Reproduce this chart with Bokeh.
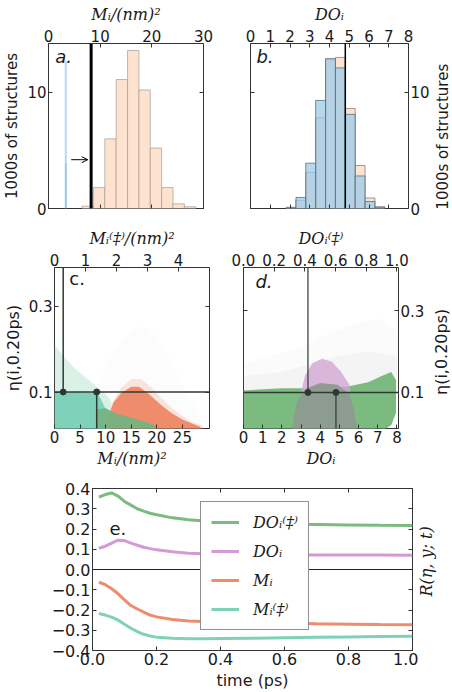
import math
from bokeh.plotting import figure
from bokeh.layouts import column, row
from bokeh.models import (Range1d, LinearAxis, FixedTicker, CustomJSTickFormatter,
                          Label, Arrow, OpenHead, Legend, LegendItem, Span)
from bokeh.embed import file_html
from bokeh.resources import INLINE

# ---------------- data ----------------
# panel a: histogram of M_i (orange) and M_i(‡) (blue), thousands of structures
a_M_edges = [6.5, 8.7, 10.9, 13.1, 15.3, 17.5, 19.7, 21.9, 24.1, 26.3, 28.5]
a_M_counts = [0.2, 1.8, 6.0, 11.1, 13.6, 10.2, 5.2, 1.8, 0.4, 0.15]
a_Mts_edges = [3.15, 3.55]
a_Mts_counts = [12.7]
a_Mts_core_edges = [3.2, 3.5]
a_Mts_core_counts = [3.9]
a_threshold = 8.25
a_arrow_x = [4.4, 7.6]
a_arrow_y = 4.2

# panel b: histogram of DO_i (orange) and DO_i(‡) (blue)
b_edges = [1.8, 2.3, 2.8, 3.3, 3.8, 4.3, 4.8, 5.3, 5.8, 6.3, 6.8]
b_DO_counts = [0.05, 0.7, 3.1, 7.8, 12.8, 13.0, 8.6, 3.7, 0.9, 0.15]
b_DOts_counts = [0.1, 0.95, 3.9, 9.3, 12.9, 12.1, 8.1, 2.8, 0.6, 0.1]
b_threshold = 4.8

# panel c: eta vs M_i clouds (outlines)
c_haze_x = [8, 10, 12, 14, 16, 18, 20, 22, 24, 26, 28, 29, 29, 8]
c_haze_y = [0.10, 0.16, 0.20, 0.23, 0.25, 0.25, 0.23, 0.19, 0.14, 0.10, 0.05, 0.02, 0.0, 0.0]
c_tealhaze_x = [0, 0, 2, 4, 6, 8, 10, 11, 11, 0]
c_tealhaze_y = [0.10, 0.21, 0.18, 0.155, 0.135, 0.115, 0.095, 0.08, 0.0, 0.0]
c_teal_x = [0, 0, 4, 8.3, 9.0, 10.0, 11.0, 11.2]
c_teal_y = [0.0, 0.10, 0.10, 0.098, 0.085, 0.06, 0.03, 0.0]
c_orhalo_x = [9.5, 11, 13, 15, 17, 19, 21, 23, 25, 27, 29, 29.5]
c_orhalo_y = [0.0, 0.07, 0.11, 0.13, 0.13, 0.11, 0.085, 0.062, 0.044, 0.03, 0.02, 0.0]
c_orange_x = [9.6, 10.5, 11.5, 13, 15, 16.5, 18.5, 21, 23, 25, 27, 28.5, 29]
c_orange_y = [0.0, 0.04, 0.075, 0.097, 0.112, 0.112, 0.095, 0.068, 0.05, 0.036, 0.026, 0.019, 0.0]
c_green_x = [8.3, 8.3, 10, 12, 15, 18, 20, 20.5]
c_green_y = [0.0, 0.06, 0.062, 0.05, 0.04, 0.03, 0.02, 0.0]
c_eta_cut = 0.1
c_Mts_cut = 0.28    # in M_i(‡) units (top axis)
c_M_cut = 8.25      # in M_i units (bottom axis)

# panel d: eta vs DO_i clouds
d_haze_x = [0, 0, 1.5, 3, 4.5, 6, 7, 8.08, 8.08]
d_haze_y = [0.10, 0.17, 0.19, 0.21, 0.245, 0.27, 0.28, 0.25, 0.10]
d_haze2_x = [0, 0, 2, 3.5, 5, 6.5, 8, 8]
d_haze2_y = [0.10, 0.14, 0.15, 0.17, 0.19, 0.20, 0.19, 0.10]
d_green_x = [0, 0, 2, 4, 5.5, 6.5, 7.2, 7.7, 7.95, 7.95, 7.7, 7.2, 7.0]
d_green_y = [0.0, 0.105, 0.11, 0.11, 0.115, 0.125, 0.14, 0.15, 0.13, 0.05, 0.02, 0.005, 0.0]
d_pink_x = [3.0, 3.2, 3.6, 4.1, 4.6, 5.1, 5.5, 5.6]
d_pink_y = [0.10, 0.14, 0.172, 0.182, 0.175, 0.15, 0.12, 0.10]
d_gray_x = [2.5, 2.6, 2.8, 3.3, 4.0, 4.9, 5.5, 5.75, 5.9, 5.9]
d_gray_y = [0.0, 0.03, 0.08, 0.11, 0.123, 0.119, 0.098, 0.058, 0.018, 0.0]
d_eta_cut = 0.1
d_DOts_cut = 0.42   # in DO_i(‡) units (top axis)
d_DO_cut = 4.82     # in DO_i units (bottom axis)

# panel e: correlation R(eta, y; t)
e_time = [0.02, 0.04, 0.06, 0.08, 0.10, 0.12, 0.14, 0.16, 0.18, 0.20,
          0.25, 0.30, 0.35, 0.40, 0.50, 0.60, 0.70, 0.80, 0.90, 1.00]
e_DOts = [0.357, 0.370, 0.378, 0.362, 0.336, 0.318, 0.300, 0.288, 0.278, 0.270,
          0.255, 0.246, 0.240, 0.235, 0.228, 0.224, 0.222, 0.220, 0.218, 0.217]
e_DO = [0.105, 0.115, 0.130, 0.145, 0.143, 0.130, 0.120, 0.110, 0.103, 0.097,
        0.088, 0.080, 0.078, 0.076, 0.074, 0.073, 0.072, 0.071, 0.071, 0.070]
e_M = [-0.063, -0.075, -0.095, -0.120, -0.150, -0.178, -0.195, -0.210, -0.225, -0.234,
       -0.247, -0.254, -0.257, -0.259, -0.262, -0.265, -0.268, -0.270, -0.272, -0.273]
e_Mts = [-0.217, -0.225, -0.235, -0.250, -0.270, -0.290, -0.307, -0.320, -0.328, -0.334,
         -0.340, -0.342, -0.342, -0.341, -0.339, -0.337, -0.335, -0.333, -0.331, -0.330]
e_labels = ["DOᵢ⁽‡⁾", "DOᵢ", "Mᵢ", "Mᵢ⁽‡⁾"]

# ---------------- style ----------------
SANS = "DejaVu Sans"
SERIF = "DejaVu Serif"
INK = "#1a1a1a"
FRAME = "#333333"
C_GREEN = "#7bbb80"
C_PINK = "#d49ad4"
C_ORANGE = "#ef8c6c"
C_TEAL = "#80d1b9"
H_ORANGE = "#fde2cf"
H_BLUE = "#9ccbea"

fmt1 = CustomJSTickFormatter(code="return tick.toFixed(1).replace('-', '\u2212');")
blank = CustomJSTickFormatter(code="return '';")


def make_fig(w, h, bl, br, bt, bb, xr, yr, xloc, yloc, extra=None):
    kw = {}
    if extra:
        kw["extra_x_ranges"] = extra
    p = figure(width=w, height=h, x_range=Range1d(*xr), y_range=Range1d(*yr),
               x_axis_location=xloc, y_axis_location=yloc,
               output_backend="svg", toolbar_location=None,
               min_border_left=bl, min_border_right=br,
               min_border_top=bt, min_border_bottom=bb, **kw)
    p.outline_line_color = FRAME
    p.outline_line_width = 1
    p.xgrid.visible = False
    p.ygrid.visible = False
    p.background_fill_color = "white"
    p.border_fill_color = "white"
    return p


def title_strip(w, h, text, x, y, font=SANS, style="normal", size="15px"):
    # narrow figure holding a right-hand axis title that reads bottom-to-top
    p = figure(width=w, height=h, x_range=Range1d(0, 1), y_range=Range1d(0, 1),
               x_axis_location=None, y_axis_location=None,
               output_backend="svg", toolbar_location=None,
               min_border_left=0, min_border_right=0, min_border_top=0, min_border_bottom=0)
    p.outline_line_color = None
    p.xgrid.visible = False
    p.ygrid.visible = False
    p.background_fill_color = "white"
    p.border_fill_color = "white"
    p.add_layout(Label(x=x, y=y, text=text, angle=math.pi / 2, angle_units="rad",
                       text_align="center", text_baseline="middle",
                       text_font=font, text_font_style=style, text_font_size=size,
                       text_color=INK))
    return p


def style_axis(ax, ticks, labeled=True, size="15px", label=None, lfont=SANS,
               lstyle="normal", lsize="15px", fmt=None):
    ax.ticker = FixedTicker(ticks=ticks)
    ax.major_tick_in = 4
    ax.major_tick_out = 0
    ax.minor_tick_line_color = None
    ax.axis_line_color = None
    ax.major_tick_line_color = FRAME
    ax.major_label_text_font = SANS
    ax.major_label_text_font_size = size
    ax.major_label_text_color = INK
    ax.major_label_standoff = 2
    if not labeled:
        ax.formatter = blank
    elif fmt is not None:
        ax.formatter = fmt
    if label is not None:
        ax.axis_label = label
        ax.axis_label_text_font = lfont
        ax.axis_label_text_font_style = lstyle
        ax.axis_label_text_font_size = lsize
        ax.axis_label_text_color = INK
        ax.axis_label_standoff = 3


def panel_label(p, text, x, y, style="italic"):
    p.add_layout(Label(x=x, y=y, text=text, text_font=SANS, text_font_style=style,
                       text_font_size="18px", text_color=INK))


# ---------------- panel a ----------------
pa = make_fig(225, 222, 45, 22, 43, 14, (0, 30), (0, 14.2), "above", "left")
pa.quad(left=a_M_edges[:-1], right=a_M_edges[1:], bottom=0, top=a_M_counts,
        fill_color=H_ORANGE, fill_alpha=1.0, line_color="#a89c92", line_alpha=0.7, line_width=1)
pa.quad(left=a_Mts_edges[:-1], right=a_Mts_edges[1:], bottom=0, top=a_Mts_counts,
        fill_color=H_BLUE, fill_alpha=0.7, line_color=None)
pa.quad(left=a_Mts_core_edges[:-1], right=a_Mts_core_edges[1:], bottom=0, top=a_Mts_core_counts,
        fill_color="#7dbde6", fill_alpha=0.7, line_color=None)
pa.add_layout(Span(location=a_threshold, dimension="height", line_color="black", line_width=3))
pa.add_layout(Arrow(end=OpenHead(size=6, line_width=1, line_color="black"),
                    x_start=a_arrow_x[0], y_start=a_arrow_y, x_end=a_arrow_x[1], y_end=a_arrow_y,
                    line_width=1, line_color="black"))
style_axis(pa.xaxis[0], [0, 10, 20, 30], label="Mᵢ/(nm)²", lfont=SERIF, lstyle="italic", lsize="16px")
style_axis(pa.yaxis[0], [0, 10], label="1000s of structures")
ax = LinearAxis()
pa.add_layout(ax, "below")
style_axis(ax, [0, 10, 20, 30], labeled=False)
ax = LinearAxis()
pa.add_layout(ax, "right")
style_axis(ax, [0, 10], labeled=False)
panel_label(pa, "a.", 1.3, 12.15)

# ---------------- panel b ----------------
pb = make_fig(207, 222, 25, 24, 43, 14, (0, 8), (0, 14.2), "above", "right")
pb.quad(left=b_edges[:-1], right=b_edges[1:], bottom=0, top=b_DO_counts,
        fill_color=H_ORANGE, fill_alpha=1.0, line_color="#8c7f75", line_alpha=0.8, line_width=1)
pb.quad(left=b_edges[:-1], right=b_edges[1:], bottom=0, top=b_DOts_counts,
        fill_color=H_BLUE, fill_alpha=0.75, line_color="#5a6f80", line_alpha=0.8, line_width=1)
pb.add_layout(Span(location=b_threshold, dimension="height", line_color="black", line_width=1.5))
style_axis(pb.xaxis[0], [0, 1, 2, 3, 4, 5, 6, 7, 8], label="DOᵢ", lfont=SERIF, lstyle="italic", lsize="16px")
style_axis(pb.yaxis[0], [0, 10])
ax = LinearAxis()
pb.add_layout(ax, "below")
style_axis(ax, [0, 1, 2, 3, 4, 5, 6, 7, 8], labeled=False)
ax = LinearAxis()
pb.add_layout(ax, "left")
style_axis(ax, [0, 10], labeled=False)
panel_label(pb, "b.", 0.3, 12.15)
pb_title = title_strip(20, 222, "1000s of structures", 0.5, 0.435)

# ---------------- panel c ----------------
pc = make_fig(226, 248, 53, 17, 45, 42, (0, 30.3), (0.015, 0.39), "below", "left",
              extra={"top": Range1d(0, 5)})
pc.patch(c_haze_x, c_haze_y, fill_color="#e6d8d6", fill_alpha=0.08, line_color=None)
pc.patch(c_tealhaze_x, c_tealhaze_y, fill_color="#a6dcc3", fill_alpha=0.4, line_color=None)
pc.patch(c_orhalo_x, c_orhalo_y, fill_color="#f3a88e", fill_alpha=0.3, line_color=None)
pc.patch(c_teal_x, c_teal_y, fill_color=C_TEAL, fill_alpha=1.0, line_color=None)
pc.patch(c_orange_x, c_orange_y, fill_color=C_ORANGE, fill_alpha=1.0, line_color=None)
pc.patch(c_green_x, c_green_y, fill_color="#74b383", fill_alpha=0.95, line_color=None)
pc.add_layout(Span(location=c_eta_cut, dimension="width", line_color="#2c3a33", line_width=1.5))
pc.segment(x0=[c_Mts_cut], y0=[c_eta_cut], x1=[c_Mts_cut], y1=[0.39], x_range_name="top",
           line_color="#2c3a33", line_width=1.5)
pc.segment(x0=[c_M_cut], y0=[c_eta_cut], x1=[c_M_cut], y1=[0.0],
           line_color="#2c3a33", line_width=1.5)
pc.scatter([c_Mts_cut], [c_eta_cut], x_range_name="top", size=6, fill_color="#2c3a33", line_color="#2c3a33")
pc.scatter([c_M_cut], [c_eta_cut], size=6, fill_color="#2c3a33", line_color="#2c3a33")
style_axis(pc.xaxis[0], [0, 5, 10, 15, 20, 25], label="Mᵢ/(nm)²", lfont=SERIF, lstyle="italic", lsize="16px")
style_axis(pc.yaxis[0], [0.1, 0.3], label="η(i,0.20ps)", lsize="16px", fmt=fmt1)
ax = LinearAxis(x_range_name="top")
pc.add_layout(ax, "above")
style_axis(ax, [0, 1, 2, 3, 4], label="Mᵢ⁽‡⁾/(nm)²", lfont=SERIF, lstyle="italic", lsize="16px")
ax = LinearAxis()
pc.add_layout(ax, "right")
style_axis(ax, [0.1, 0.3], labeled=False)
panel_label(pc, "c.", 2.9, 0.341, style="normal")

# ---------------- panel d ----------------
pd_ = make_fig(204, 248, 17, 32, 45, 42, (0, 8.08), (0.012, 0.405), "below", "right",
               extra={"top": Range1d(0, 1.01)})
pd_.patch(d_haze_x, d_haze_y, fill_color="#d8dcd8", fill_alpha=0.12, line_color=None)
pd_.patch(d_haze2_x, d_haze2_y, fill_color="#cdd3cd", fill_alpha=0.15, line_color=None)
pd_.patch(d_green_x, d_green_y, fill_color=C_GREEN, fill_alpha=1.0, line_color=None)
pd_.patch(d_pink_x, d_pink_y, fill_color="#d3a6d3", fill_alpha=0.8, line_color=None)
pd_.patch(d_gray_x, d_gray_y, fill_color="#8d9a8e", fill_alpha=0.95, line_color=None)
pd_.add_layout(Span(location=d_eta_cut, dimension="width", line_color="#2c3a33", line_width=1.5))
pd_.segment(x0=[d_DOts_cut], y0=[d_eta_cut], x1=[d_DOts_cut], y1=[0.405], x_range_name="top",
            line_color="#2c3a33", line_width=1.2)
pd_.segment(x0=[d_DO_cut], y0=[d_eta_cut], x1=[d_DO_cut], y1=[0.0],
            line_color="#2c3a33", line_width=1.2)
pd_.scatter([d_DOts_cut], [d_eta_cut], x_range_name="top", size=6, fill_color="#2c3a33", line_color="#2c3a33")
pd_.scatter([d_DO_cut], [d_eta_cut], size=6, fill_color="#2c3a33", line_color="#2c3a33")
style_axis(pd_.xaxis[0], [0, 1, 2, 3, 4, 5, 6, 7, 8], label="DOᵢ", lfont=SERIF, lstyle="italic", lsize="16px")
style_axis(pd_.yaxis[0], [0.1, 0.3], fmt=fmt1)
ax = LinearAxis(x_range_name="top")
pd_.add_layout(ax, "above")
style_axis(ax, [0, 0.2, 0.4, 0.6, 0.8, 1.0], label="DOᵢ⁽‡⁾", lfont=SERIF, lstyle="italic",
           lsize="16px", fmt=fmt1)
ax = LinearAxis()
pd_.add_layout(ax, "left")
style_axis(ax, [0.1, 0.3], labeled=False)
panel_label(pd_, "d.", 0.62, 0.345)
pd_title = title_strip(22, 248, "η(i,0.20ps)", 0.5, 0.476, size="16px")

# ---------------- panel e ----------------
pe = make_fig(418, 222, 92, 6, 18, 39, (0, 1), (-0.4, 0.4), "below", "left")
pe.add_layout(Span(location=0, dimension="width", line_color="#222222", line_width=1))
r1 = pe.line(e_time, e_DOts, line_color=C_GREEN, line_width=3)
r2 = pe.line(e_time, e_DO, line_color=C_PINK, line_width=3)
r3 = pe.line(e_time, e_M, line_color=C_ORANGE, line_width=3)
r4 = pe.line(e_time, e_Mts, line_color=C_TEAL, line_width=3)
style_axis(pe.xaxis[0], [0, 0.2, 0.4, 0.6, 0.8, 1.0], size="16px", label="time (ps)",
           lsize="16px", fmt=fmt1)
style_axis(pe.yaxis[0], [-0.4, -0.3, -0.2, -0.1, 0, 0.1, 0.2, 0.3, 0.4], size="16px", fmt=fmt1)
ax = LinearAxis()
pe.add_layout(ax, "above")
style_axis(ax, [0, 0.2, 0.4, 0.6, 0.8, 1.0], labeled=False)
ax = LinearAxis()
pe.add_layout(ax, "right")
style_axis(ax, [-0.4, -0.3, -0.2, -0.1, 0, 0.1, 0.2, 0.3, 0.4], labeled=False)
legend = Legend(items=[LegendItem(label=e_labels[0], renderers=[r1]),
                       LegendItem(label=e_labels[1], renderers=[r2]),
                       LegendItem(label=e_labels[2], renderers=[r3]),
                       LegendItem(label=e_labels[3], renderers=[r4])],
                location=(108, 20))
legend.label_text_font = SERIF
legend.label_text_font_style = "italic"
legend.label_text_font_size = "16px"
legend.label_text_color = INK
legend.glyph_width = 28
legend.glyph_height = 20
legend.label_height = 20
legend.label_standoff = 14
legend.spacing = 9
legend.padding = 10
legend.margin = 0
legend.border_line_color = "#222222"
legend.border_line_width = 1
legend.background_fill_alpha = 1.0
pe.add_layout(legend)
pe.add_layout(Label(x=0.053, y=0.172, text="e.", text_font=SANS, text_font_size="18px",
                    text_color=INK))
pe_title = title_strip(34, 222, "R(η, y; t)", 0.24, 0.55, font=SERIF, style="italic", size="16px")

layout = column(row(pa, pb, pb_title), row(pc, pd_, pd_title), row(pe, pe_title))
open("out.html", "w").write(file_html(layout, INLINE))
